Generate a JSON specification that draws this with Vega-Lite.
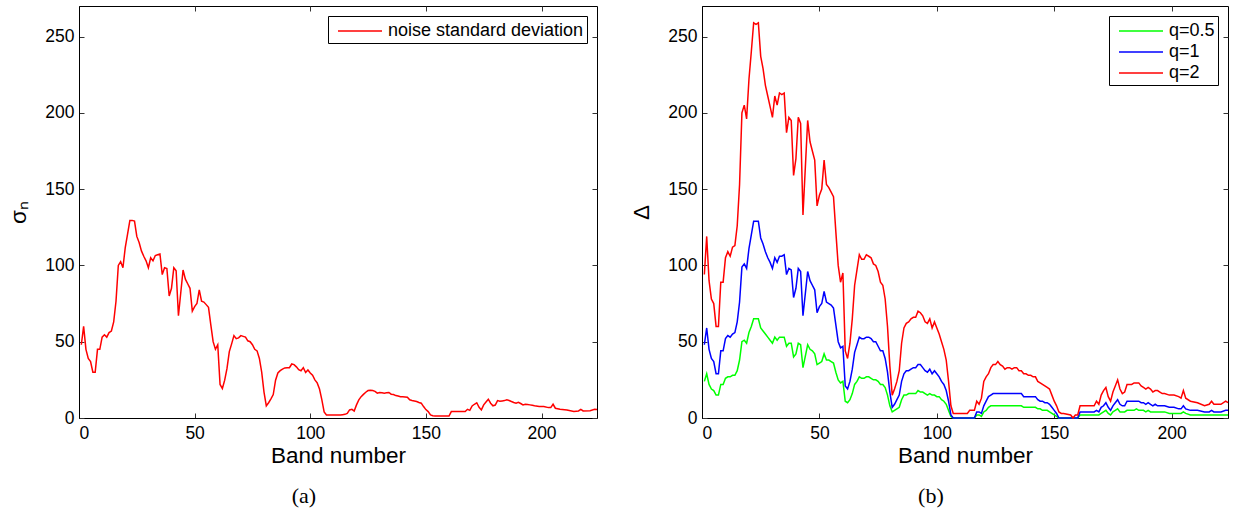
{
  "$schema": "https://vega.github.io/schema/vega-lite/v6.json",
  "padding": {"left": 7, "top": 5, "right": 5, "bottom": 5},
  "background": "white",
  "config": {
    "font": "Liberation Sans",
    "view": {"stroke": "black", "strokeWidth": 1},
    "axis": {"grid": false, "labelFont": "Liberation Sans", "labelFontSize": 17.5, "labelColor": "black", "titleFont": "Liberation Sans", "titleFontSize": 22.5, "titleFontWeight": "normal", "titleColor": "black", "domainColor": "black", "domainWidth": 1, "tickColor": "#333333", "tickSize": -5, "tickWidth": 1},
    "axisX": {"labelPadding": 11, "titlePadding": 3},
    "axisY": {"labelPadding": 10, "titlePadding": 14},
    "legend": {"strokeColor": "black", "fillColor": "white", "padding": 3, "labelFont": "Liberation Sans", "labelFontSize": 18, "labelColor": "black", "labelLimit": 400, "symbolType": "M-2,0H2", "symbolStrokeWidth": 1.5, "symbolSize": 484, "symbolOffset": 17, "labelOffset": 16, "rowPadding": 0, "title": null, "offset": 10, "orient": "top-right"},
    "title": {"font": "Liberation Serif", "fontSize": 22, "fontWeight": "normal", "orient": "bottom", "anchor": "middle", "frame": "bounds", "color": "black", "offset": 19}
  },
  "datasets": {
    "d": [
      {"band":1,"s":48,"g":24,"b":48,"r":94},
      {"band":2,"s":60,"g":29,"b":59,"r":119},
      {"band":3,"s":45,"g":22,"b":45,"r":90},
      {"band":4,"s":39,"g":19,"b":39,"r":78},
      {"band":5,"s":37,"g":18,"b":37,"r":75},
      {"band":6,"s":30,"g":15,"b":29,"r":60},
      {"band":7,"s":30,"g":15,"b":29,"r":60},
      {"band":8,"s":45,"g":22,"b":44,"r":89},
      {"band":9,"s":45,"g":22,"b":44,"r":89},
      {"band":10,"s":53,"g":26,"b":52,"r":105},
      {"band":11,"s":54.5,"g":27,"b":54,"r":109},
      {"band":12,"s":53,"g":27,"b":53,"r":106},
      {"band":13,"s":56,"g":28,"b":55,"r":112},
      {"band":14,"s":57,"g":28,"b":56,"r":113},
      {"band":15,"s":63,"g":31,"b":63,"r":126},
      {"band":16,"s":76.5,"g":38,"b":76,"r":153},
      {"band":17,"s":100,"g":50,"b":99,"r":200},
      {"band":18,"s":102.5,"g":51,"b":101,"r":205},
      {"band":19,"s":98.5,"g":49,"b":98,"r":196},
      {"band":20,"s":111.7,"g":56,"b":111,"r":222},
      {"band":21,"s":120.5,"g":60,"b":120,"r":240},
      {"band":22,"s":129.5,"g":65,"b":129,"r":259},
      {"band":23,"s":129.5,"g":65,"b":129,"r":258},
      {"band":24,"s":129,"g":65,"b":129,"r":259},
      {"band":25,"s":119,"g":59,"b":118,"r":237},
      {"band":26,"s":115,"g":57,"b":114,"r":229},
      {"band":27,"s":109.5,"g":55,"b":109,"r":218},
      {"band":28,"s":106,"g":53,"b":105,"r":211},
      {"band":29,"s":103,"g":51,"b":102,"r":204},
      {"band":30,"s":98.5,"g":49,"b":98,"r":197},
      {"band":31,"s":105,"g":53,"b":105,"r":211},
      {"band":32,"s":103,"g":51,"b":102,"r":205},
      {"band":33,"s":106.5,"g":53,"b":106,"r":213},
      {"band":34,"s":107,"g":53,"b":106,"r":212},
      {"band":35,"s":107.5,"g":53,"b":107,"r":213},
      {"band":36,"s":94,"g":47,"b":94,"r":187},
      {"band":37,"s":98.5,"g":49,"b":98,"r":197},
      {"band":38,"s":98,"g":49,"b":97,"r":195},
      {"band":39,"s":80,"g":40,"b":79,"r":159},
      {"band":40,"s":85,"g":42,"b":85,"r":170},
      {"band":41,"s":98.5,"g":49,"b":98,"r":197},
      {"band":42,"s":96.5,"g":48,"b":96,"r":193},
      {"band":43,"s":67,"g":33,"b":67,"r":133},
      {"band":45,"s":97,"g":48,"b":96,"r":195},
      {"band":46,"s":91,"g":45,"b":90,"r":181},
      {"band":47,"s":88,"g":44,"b":87,"r":175},
      {"band":48,"s":85,"g":42,"b":84,"r":169},
      {"band":49,"s":70,"g":35,"b":69,"r":139},
      {"band":50,"s":73,"g":36,"b":73,"r":146},
      {"band":51,"s":75,"g":37,"b":75,"r":150},
      {"band":52,"s":84,"g":42,"b":83,"r":169},
      {"band":53,"s":76.5,"g":38,"b":76,"r":153},
      {"band":54,"s":76,"g":38,"b":75,"r":151},
      {"band":55,"s":74.3,"g":37,"b":74,"r":148},
      {"band":56,"s":72.5,"g":36,"b":72,"r":145},
      {"band":57,"s":61,"g":30,"b":61,"r":122},
      {"band":58,"s":50,"g":25,"b":50,"r":100},
      {"band":59,"s":45,"g":23,"b":46,"r":89},
      {"band":60,"s":48,"g":24,"b":47,"r":95},
      {"band":61,"s":22,"g":11,"b":21,"r":44},
      {"band":62,"s":19.3,"g":10,"b":19,"r":39},
      {"band":63,"s":24.8,"g":12,"b":24,"r":49},
      {"band":64,"s":32.5,"g":16,"b":32,"r":65},
      {"band":65,"s":43.5,"g":22,"b":43,"r":87},
      {"band":66,"s":48.6,"g":24,"b":48,"r":97},
      {"band":67,"s":54,"g":27,"b":53,"r":107},
      {"band":68,"s":52,"g":26,"b":52,"r":104},
      {"band":69,"s":52.5,"g":26,"b":52,"r":104},
      {"band":70,"s":54,"g":27,"b":53,"r":107},
      {"band":71,"s":53.5,"g":27,"b":53,"r":106},
      {"band":72,"s":53,"g":26,"b":52,"r":105},
      {"band":73,"s":50.6,"g":25,"b":50,"r":101},
      {"band":74,"s":50,"g":25,"b":50,"r":100},
      {"band":75,"s":48,"g":24,"b":47,"r":96},
      {"band":76,"s":45,"g":22,"b":44,"r":89},
      {"band":77,"s":44,"g":22,"b":44,"r":87},
      {"band":78,"s":39,"g":20,"b":39,"r":78},
      {"band":79,"s":30,"g":15,"b":30,"r":60},
      {"band":80,"s":17,"g":8,"b":17,"r":34},
      {"band":81,"s":8,"g":4,"b":7,"r":15},
      {"band":82,"s":10,"g":5,"b":9,"r":19},
      {"band":83,"s":12.6,"g":6,"b":12,"r":24},
      {"band":84,"s":15.4,"g":7,"b":15,"r":31},
      {"band":85,"s":24.8,"g":12,"b":24,"r":49},
      {"band":86,"s":29.5,"g":15,"b":29,"r":59},
      {"band":87,"s":31,"g":15,"b":31,"r":62},
      {"band":88,"s":32,"g":16,"b":31,"r":63},
      {"band":89,"s":32.8,"g":16,"b":32,"r":65},
      {"band":90,"s":33,"g":16,"b":33,"r":66},
      {"band":91,"s":33,"g":16,"b":33,"r":66},
      {"band":92,"s":35.4,"g":18,"b":35,"r":70},
      {"band":93,"s":35,"g":17,"b":35,"r":69},
      {"band":94,"s":33.5,"g":17,"b":33,"r":67},
      {"band":95,"s":31.7,"g":16,"b":31,"r":63},
      {"band":96,"s":31,"g":15,"b":30,"r":62},
      {"band":97,"s":33,"g":16,"b":32,"r":65},
      {"band":98,"s":29.8,"g":15,"b":29,"r":59},
      {"band":99,"s":31.5,"g":15,"b":31,"r":63},
      {"band":100,"s":29.5,"g":14,"b":29,"r":59},
      {"band":101,"s":28,"g":14,"b":27,"r":55},
      {"band":102,"s":25,"g":12,"b":24,"r":50},
      {"band":103,"s":23,"g":11,"b":22,"r":45},
      {"band":104,"s":19,"g":9,"b":18,"r":38},
      {"band":105,"s":12,"g":5,"b":11,"r":24},
      {"band":106,"s":4,"g":1,"b":2,"r":8},
      {"band":107,"s":2,"g":0,"b":0,"r":3},
      {"band":113,"s":2,"g":0,"b":0,"r":3},
      {"band":114,"s":2.2,"g":0,"b":0,"r":5},
      {"band":115,"s":2.4,"g":0,"b":0,"r":5},
      {"band":116,"s":3,"g":0,"b":0,"r":5},
      {"band":117,"s":5.3,"g":2,"b":4,"r":11},
      {"band":118,"s":5.7,"g":2,"b":4,"r":9},
      {"band":119,"s":4.6,"g":1,"b":3,"r":13},
      {"band":120,"s":8.6,"g":4,"b":8,"r":24},
      {"band":121,"s":11.9,"g":5,"b":11,"r":27},
      {"band":122,"s":14,"g":7,"b":14,"r":29},
      {"band":123,"s":15.5,"g":8,"b":15,"r":33},
      {"band":124,"s":16.9,"g":8,"b":16,"r":35},
      {"band":125,"s":18,"g":8,"b":16,"r":35},
      {"band":126,"s":18.2,"g":8,"b":16,"r":37},
      {"band":127,"s":18,"g":8,"b":16,"r":35},
      {"band":128,"s":17.5,"g":8,"b":16,"r":34},
      {"band":129,"s":16.3,"g":8,"b":16,"r":32},
      {"band":130,"s":16.7,"g":8,"b":16,"r":33},
      {"band":131,"s":16.5,"g":8,"b":16,"r":33},
      {"band":132,"s":16.3,"g":8,"b":16,"r":32},
      {"band":133,"s":16.5,"g":8,"b":16,"r":33},
      {"band":134,"s":16.7,"g":8,"b":16,"r":33},
      {"band":135,"s":15.6,"g":8,"b":16,"r":31},
      {"band":136,"s":15.4,"g":8,"b":16,"r":31},
      {"band":137,"s":14.7,"g":7,"b":14,"r":29},
      {"band":138,"s":14.4,"g":7,"b":14,"r":29},
      {"band":139,"s":14,"g":7,"b":14,"r":28},
      {"band":140,"s":14,"g":7,"b":14,"r":28},
      {"band":141,"s":13.8,"g":7,"b":14,"r":27},
      {"band":142,"s":13.6,"g":7,"b":14,"r":27},
      {"band":143,"s":11.9,"g":6,"b":12,"r":24},
      {"band":144,"s":11.5,"g":6,"b":11,"r":23},
      {"band":145,"s":11.2,"g":5,"b":11,"r":22},
      {"band":146,"s":10.8,"g":5,"b":10,"r":21},
      {"band":147,"s":10.2,"g":5,"b":10,"r":20},
      {"band":148,"s":9.7,"g":4,"b":9,"r":19},
      {"band":149,"s":7.5,"g":3,"b":7,"r":15},
      {"band":150,"s":5.5,"g":2,"b":5,"r":11},
      {"band":151,"s":4.2,"g":1,"b":3,"r":8},
      {"band":152,"s":2,"g":0,"b":0,"r":4},
      {"band":153,"s":1.5,"g":0,"b":0,"r":3},
      {"band":154,"s":1.3,"g":0,"b":0,"r":3},
      {"band":157,"s":1.3,"g":0,"b":0,"r":2},
      {"band":158,"s":1.3,"g":0,"b":0,"r":0},
      {"band":159,"s":1.3,"g":0,"b":0,"r":2},
      {"band":160,"s":1.3,"g":0,"b":0,"r":2},
      {"band":161,"s":4.2,"g":2,"b":4,"r":8},
      {"band":167,"s":4.2,"g":2,"b":4,"r":8},
      {"band":168,"s":5.7,"g":2,"b":5,"r":11},
      {"band":169,"s":5,"g":2,"b":4,"r":9},
      {"band":170,"s":7.9,"g":3,"b":7,"r":15},
      {"band":171,"s":9,"g":4,"b":8,"r":18},
      {"band":172,"s":10,"g":5,"b":10,"r":20},
      {"band":173,"s":7,"g":3,"b":7,"r":14},
      {"band":174,"s":5.3,"g":2,"b":5,"r":11},
      {"band":175,"s":8.6,"g":4,"b":8,"r":17},
      {"band":176,"s":10.5,"g":5,"b":10,"r":21},
      {"band":177,"s":12.3,"g":6,"b":12,"r":25},
      {"band":178,"s":9.7,"g":4,"b":9,"r":19},
      {"band":179,"s":8,"g":4,"b":8,"r":16},
      {"band":180,"s":8.5,"g":4,"b":8,"r":17},
      {"band":181,"s":11.4,"g":5,"b":11,"r":22},
      {"band":182,"s":11,"g":5,"b":11,"r":22},
      {"band":183,"s":11.2,"g":5,"b":11,"r":22},
      {"band":184,"s":11.4,"g":5,"b":11,"r":23},
      {"band":185,"s":11.9,"g":6,"b":11,"r":23},
      {"band":186,"s":11.5,"g":5,"b":11,"r":23},
      {"band":187,"s":10.8,"g":5,"b":10,"r":21},
      {"band":188,"s":10.2,"g":5,"b":10,"r":20},
      {"band":189,"s":9.7,"g":4,"b":9,"r":19},
      {"band":190,"s":10.3,"g":5,"b":10,"r":20},
      {"band":191,"s":9.5,"g":4,"b":9,"r":19},
      {"band":192,"s":8.6,"g":4,"b":8,"r":17},
      {"band":193,"s":9,"g":4,"b":9,"r":18},
      {"band":194,"s":8.8,"g":4,"b":8,"r":18},
      {"band":195,"s":8.6,"g":4,"b":8,"r":17},
      {"band":196,"s":8.3,"g":4,"b":8,"r":16},
      {"band":197,"s":8,"g":4,"b":8,"r":16},
      {"band":199,"s":7.5,"g":3,"b":7,"r":15},
      {"band":201,"s":7.5,"g":3,"b":7,"r":15},
      {"band":203,"s":6.8,"g":3,"b":6,"r":14},
      {"band":204,"s":6.8,"g":3,"b":6,"r":13},
      {"band":205,"s":9,"g":4,"b":8,"r":18},
      {"band":206,"s":6.4,"g":3,"b":6,"r":13},
      {"band":208,"s":5.7,"g":2,"b":5,"r":11},
      {"band":211,"s":5.3,"g":2,"b":5,"r":10},
      {"band":214,"s":4.2,"g":2,"b":4,"r":8},
      {"band":216,"s":4.6,"g":2,"b":4,"r":9},
      {"band":217,"s":5.7,"g":2,"b":5,"r":11},
      {"band":218,"s":4.6,"g":2,"b":4,"r":9},
      {"band":221,"s":4.8,"g":2,"b":4,"r":9},
      {"band":223,"s":5.7,"g":2,"b":5,"r":11},
      {"band":224,"s":5.5,"g":2,"b":5,"r":10}
    ]
  },
  "resolve": {"scale": {"color": "independent"}, "legend": {"color": "independent"}},
  "spacing": 29,
  "hconcat": [
    {
      "width": 518,
      "height": 412,
      "title": {"text": "(a)"},
      "data": {"name": "d"},
      "layer": [
        {
          "mark": {"type": "line", "strokeWidth": 1.5},
          "encoding": {
            "x": {"field": "band", "type": "quantitative", "scale": {"domain": [0, 224], "nice": false, "zero": false}, "axis": {"title": "Band number", "values": [0, 50, 100, 150, 200], "orient": "bottom"}},
            "y": {"field": "s", "type": "quantitative", "scale": {"domain": [0, 270], "nice": false}, "axis": {"title": "σₙ", "values": [0, 50, 100, 150, 200, 250], "orient": "left"}},
            "color": {"datum": "noise standard deviation", "type": "nominal", "scale": {"range": ["#ff0000"]}, "legend": {"orient": "top-right", "offset": 10}}
          }
        },
        {
          "mark": {"type": "line", "opacity": 0},
          "encoding": {
            "x": {"field": "band", "type": "quantitative", "scale": {"domain": [0, 224], "nice": false, "zero": false}, "axis": {"title": null, "labels": false, "domain": false, "values": [0, 50, 100, 150, 200], "orient": "top"}},
            "y": {"field": "s", "type": "quantitative", "scale": {"domain": [0, 270], "nice": false}, "axis": {"title": null, "labels": false, "domain": false, "values": [0, 50, 100, 150, 200, 250], "orient": "right"}}
          }
        }
      ],
      "resolve": {"axis": {"x": "independent", "y": "independent"}}
    },
    {
      "width": 526,
      "height": 412,
      "title": {"text": "(b)"},
      "data": {"name": "d"},
      "layer": [
        {
          "transform": [{"fold": ["g", "b", "r"], "as": ["q", "v"]}],
          "mark": {"type": "line", "strokeWidth": 1.5},
          "encoding": {
            "x": {"field": "band", "type": "quantitative", "scale": {"domain": [0, 224], "nice": false, "zero": false}, "axis": {"title": "Band number", "values": [0, 50, 100, 150, 200], "orient": "bottom"}},
            "y": {"field": "v", "type": "quantitative", "scale": {"domain": [0, 270], "nice": false}, "axis": {"title": "Δ", "values": [0, 50, 100, 150, 200, 250], "orient": "left"}},
            "color": {"field": "q", "type": "nominal", "scale": {"domain": ["g", "b", "r"], "range": ["#00ff00", "#0000ff", "#ff0000"]}, "legend": {"orient": "top-right", "offset": 10, "labelExpr": "datum.label == 'g' ? 'q=0.5' : datum.label == 'b' ? 'q=1' : 'q=2'"}}
          }
        },
        {
          "mark": {"type": "line", "opacity": 0},
          "encoding": {
            "x": {"field": "band", "type": "quantitative", "scale": {"domain": [0, 224], "nice": false, "zero": false}, "axis": {"title": null, "labels": false, "domain": false, "values": [0, 50, 100, 150, 200], "orient": "top"}},
            "y": {"field": "r", "type": "quantitative", "scale": {"domain": [0, 270], "nice": false}, "axis": {"title": null, "labels": false, "domain": false, "values": [0, 50, 100, 150, 200, 250], "orient": "right"}}
          }
        }
      ],
      "resolve": {"axis": {"x": "independent", "y": "independent"}}
    }
  ]
}
